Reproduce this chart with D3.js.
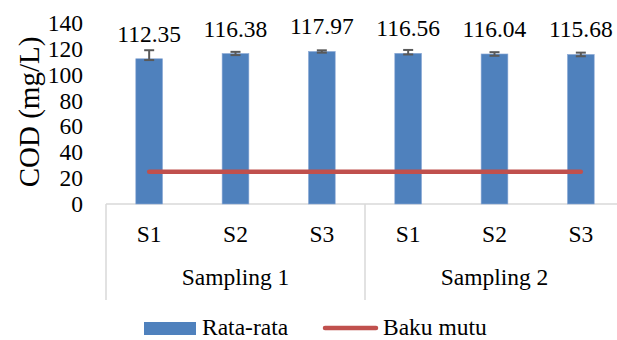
<!DOCTYPE html>
<html><head><meta charset="utf-8">
<script src="https://cdn.jsdelivr.net/npm/d3@7"></script>
<style>body{margin:0;background:#fff}svg{display:block}</style>
</head><body><svg id="c" width="617" height="340"></svg>
<script>
const categories = ["S1","S2","S3","S1","S2","S3"];
const groups = ["Sampling 1","Sampling 2"];
const values = [112.35,116.38,117.97,116.56,116.04,115.68];
const errPlus = [6.6,1.3,0.9,2.6,1.4,1.4];
const errMinus = [1.0,1.2,0.9,0.9,1.4,1.4];
const bakuMutu = [25,25,25,25,25,25];
const yTicks = [0,20,40,60,80,100,120,140];
const seriesNames = ["Rata-rata","Baku mutu"];

const FF = "Liberation Serif";
const FS = "23.5px";
const svg = d3.select("#c");
const x = d3.scaleBand().domain(d3.range(categories.length)).range([106,624]).padding(0);
const y = d3.scaleLinear().domain([0,140]).range([204,23]);
const bw = x.bandwidth()*0.31;
const cx = i => x(i)+x.bandwidth()/2;

function txt(sel){ return sel.style("font-family",FF).style("font-size",FS).style("fill","#000"); }

svg.append("line").attr("x1",106).attr("x2",624).attr("y1",y(0)).attr("y2",y(0)).attr("stroke","#d9d9d9").attr("stroke-width",1.5);
[0,3,6].forEach(i=>{
  const xx = i<6 ? x(i) : x(5)+x.bandwidth();
  svg.append("line").attr("x1",xx).attr("x2",xx).attr("y1",y(0)).attr("y2",300).attr("stroke","#d9d9d9").attr("stroke-width",1.5);
});

txt(svg.append("g").selectAll("text").data(yTicks).join("text"))
  .attr("x",83).attr("y",d=>y(d)).attr("dy","0.34em").attr("text-anchor","end").text(d=>d);

svg.append("text").style("font-family",FF).style("font-size","29px").attr("transform","translate(39,112) rotate(-90)").attr("text-anchor","middle").text("COD (mg/L)");

svg.append("g").selectAll("rect").data(values).join("rect")
  .attr("x",(d,i)=>cx(i)-bw/2).attr("width",bw).attr("y",d=>y(d)).attr("height",d=>y(0)-y(d))
  .attr("fill","#4f81bd").attr("stroke","#8eaad6").attr("stroke-width",0.6);

const eb = svg.append("g").attr("stroke","#595959").attr("stroke-width",2);
values.forEach((v,i)=>{
  const t=y(v+errPlus[i]), b=y(v-errMinus[i]);
  eb.append("line").attr("x1",cx(i)).attr("x2",cx(i)).attr("y1",t).attr("y2",b);
  eb.append("line").attr("x1",cx(i)-5).attr("x2",cx(i)+5).attr("y1",t).attr("y2",t);
  eb.append("line").attr("x1",cx(i)-5).attr("x2",cx(i)+5).attr("y1",b).attr("y2",b);
});

svg.append("path").datum(bakuMutu)
  .attr("d",d3.line().x((d,i)=>cx(i)).y(d=>y(d)))
  .attr("fill","none").attr("stroke","#c0504d").attr("stroke-width",4.5).attr("stroke-linecap","round");

txt(svg.append("g").selectAll("text").data(values).join("text"))
  .attr("x",(d,i)=>cx(i)).attr("y",d=>y(d)-17).attr("text-anchor","middle").text(d=>d.toFixed(2));

txt(svg.append("g").selectAll("text").data(categories).join("text"))
  .attr("x",(d,i)=>cx(i)).attr("y",242).attr("text-anchor","middle").text(d=>d);
txt(svg.append("g").selectAll("text").data(groups).join("text"))
  .attr("x",(d,g)=>(x(g*3)+x(g*3+2)+x.bandwidth())/2).attr("y",285).attr("text-anchor","middle").text(d=>d);

svg.append("rect").attr("x",144).attr("y",322).attr("width",52).attr("height",13).attr("fill","#4f81bd");
txt(svg.append("text")).attr("x",202).attr("y",335).text(seriesNames[0]);
svg.append("line").attr("x1",325).attr("x2",376).attr("y1",328).attr("y2",328).attr("stroke","#c0504d").attr("stroke-width",4.5).attr("stroke-linecap","round");
txt(svg.append("text")).attr("x",383).attr("y",335).text(seriesNames[1]);
</script></body></html>
